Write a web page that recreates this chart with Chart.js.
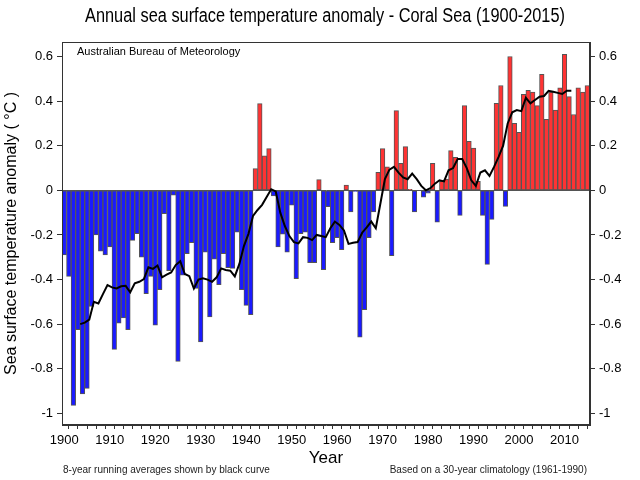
<!DOCTYPE html>
<html>
<head>
<meta charset="utf-8">
<script src="https://cdn.jsdelivr.net/npm/chart.js@4.4.1/dist/chart.umd.min.js"></script>
<style>
  html, body { margin: 0; padding: 0; background: #fff; }
  #wrap { width: 640px; height: 480px; }
</style>
</head>
<body>
<div id="wrap"><canvas id="sstChart" width="640" height="480"></canvas></div>
<script>
// annual anomalies, Coral Sea, 1900-2015 (deg C)
var firstYear = 1900;
var sst = [
    -0.29, -0.386, -0.964, -0.625, -0.913, -0.888, -0.52, -0.20, -0.273, -0.29,
    -0.254, -0.713, -0.595, -0.572, -0.625, -0.224, -0.194, -0.30, -0.463, -0.386,
    -0.605, -0.445, -0.105, -0.36, -0.022, -0.767, -0.38, -0.284, -0.235, -0.44,
    -0.68, -0.277, -0.568, -0.309, -0.423, -0.284, -0.347, -0.35, -0.187, -0.445,
    -0.516, -0.557, 0.097, 0.389, 0.155, 0.187, -0.025, -0.254, -0.197, -0.277,
    -0.067, -0.396, -0.194, -0.187, -0.324, -0.324, 0.048, -0.356, -0.073, -0.235,
    -0.212, -0.266, 0.024, -0.097, -0.005, -0.658, -0.535, -0.212, -0.097, 0.081,
    0.187, 0.105, -0.293, 0.357, 0.121, 0.196, 0.005, -0.097, 0.0, -0.031,
    -0.013, 0.121, -0.143, 0.04, 0.05, 0.178, 0.148, -0.112, 0.38, 0.22,
    0.19, 0.04, -0.112, -0.332, -0.13, 0.39, 0.47, -0.072, 0.60, 0.30,
    0.26, 0.43, 0.448, 0.44, 0.38, 0.52, 0.318, 0.44, 0.36, 0.46,
    0.61, 0.42, 0.34, 0.46, 0.44, 0.47
];

// 8-year running mean, plotted at window centres from 1903.5
var avgStart = 1903.5;
var avg8 = [
    -0.60, -0.593, -0.58, -0.50, -0.507, -0.465, -0.425, -0.435, -0.44, -0.43,
    -0.428, -0.457, -0.417, -0.41, -0.398, -0.345, -0.352, -0.337, -0.39, -0.378,
    -0.368, -0.335, -0.318, -0.375, -0.385, -0.44, -0.40, -0.394, -0.40, -0.41,
    -0.39, -0.35, -0.357, -0.36, -0.386, -0.33, -0.25, -0.195, -0.115, -0.088,
    -0.065, -0.03, 0.005, -0.005, -0.10, -0.16, -0.205, -0.232, -0.238, -0.21,
    -0.213, -0.223, -0.20, -0.205, -0.21, -0.17, -0.14, -0.155, -0.18, -0.24,
    -0.235, -0.232, -0.19, -0.166, -0.14, -0.17, -0.06, 0.05, 0.093, 0.105,
    0.079, 0.058, 0.05, 0.075, 0.05, 0.02, 0.0, 0.01, 0.03, 0.045,
    0.04, 0.09, 0.10, 0.14, 0.14, 0.10, 0.045, 0.02, 0.08, 0.09,
    0.065, 0.105, 0.15, 0.20, 0.30, 0.35, 0.36, 0.355, 0.415, 0.39,
    0.405, 0.42, 0.423, 0.446, 0.442, 0.437, 0.432, 0.447, 0.447
];

var yTicks = [-1, -0.8, -0.6, -0.4, -0.2, 0, 0.2, 0.4, 0.6];
var xLabelYears = [1900, 1910, 1920, 1930, 1940, 1950, 1960, 1970, 1980, 1990, 2000, 2010];
var xMinorStep = 2;

var titleText = 'Annual sea surface temperature anomaly - Coral Sea (1900-2015)';
var sourceText = 'Australian Bureau of Meteorology';
var footLeft = '8-year running averages shown by black curve';
var footRight = 'Based on a 30-year climatology (1961-1990)';

(function () {
    var barPoints = sst.map(function (v, i) { return {x: firstYear + i, y: v}; });
    var avgPoints = avg8.map(function (v, i) { return {x: avgStart + i, y: v}; });

    var fmt = function (v) { return String(Math.round(v * 10) / 10); };
    var setYTicks = function (scale) {
        scale.ticks = yTicks.map(function (v) { return {value: v}; });
    };
    var setXTicks = function (scale) {
        var t = [];
        for (var y = xLabelYears[0]; y <= 2014; y += xMinorStep) t.push({value: y});
        scale.ticks = t;
    };

    // free text + frame
    var decorations = {
        id: 'decorations',
        afterDraw: function (chart) {
            var c = chart.ctx, a = chart.chartArea;
            c.save();
            c.strokeStyle = '#333';
            c.lineWidth = 1;
            c.strokeRect(a.left + 0.5, a.top + 0.5, a.right - a.left - 1, a.bottom - a.top - 1);

            c.fillStyle = '#000';
            c.textBaseline = 'middle';
            c.font = "20px 'Liberation Sans Narrow', 'Liberation Sans', Arial, sans-serif";
            var w = c.measureText(titleText).width, target = 480;
            c.save();
            c.translate(325, 16);
            if (w > target) c.scale(target / w, 1);
            c.textAlign = 'center';
            c.fillText(titleText, 0, 0);
            c.restore();

            c.font = "11px 'Liberation Sans', Arial, sans-serif";
            c.textAlign = 'left';
            c.fillText(sourceText, 77, 52);

            c.font = "10px 'Liberation Sans', Arial, sans-serif";
            c.fillStyle = '#222';
            c.fillText(footLeft, 63, 470);
            c.textAlign = 'right';
            c.fillText(footRight, 587, 470);
            c.restore();
        }
    };

    var ctx = document.getElementById('sstChart').getContext('2d');
    new Chart(ctx, {
        type: 'bar',
        data: {
            datasets: [
                {
                    type: 'line',
                    label: '8-year running average',
                    data: avgPoints,
                    borderColor: '#000',
                    borderWidth: 2,
                    pointRadius: 0,
                    tension: 0,
                    order: 0
                },
                {
                    label: 'Anomaly',
                    data: barPoints,
                    backgroundColor: function (c) {
                        var v = c.raw ? c.raw.y : 0;
                        return v >= 0 ? '#ff3333' : '#1a1aff';
                    },
                    borderColor: '#555',
                    borderWidth: 1,
                    borderSkipped: false,
                    barPercentage: 1,
                    categoryPercentage: 1,
                    order: 1
                }
            ]
        },
        options: {
            responsive: false,
            animation: false,
            devicePixelRatio: 1,
            layout: {padding: {top: 42, left: 0, right: 0, bottom: 0}},
            plugins: {
                legend: {display: false},
                tooltip: {enabled: false},
                title: {display: false}
            },
            scales: {
                x: {
                    type: 'linear',
                    min: 1899.5,
                    max: 2015.6,
                    offset: false,
                    afterFit: function (s) { s.height = 55; },
                    afterBuildTicks: setXTicks,
                    grid: {drawOnChartArea: false, drawTicks: true, tickLength: 4, color: '#333'},
                    border: {display: true, color: '#333'},
                    ticks: {
                        autoSkip: false,
                        maxRotation: 0,
                        padding: 4,
                        color: '#000',
                        font: {family: "'Liberation Sans', Arial, sans-serif", size: 13},
                        callback: function (v) { return v % 10 === 0 ? String(v) : ''; }
                    },
                    title: {
                        display: true,
                        text: 'Year',
                        color: '#000',
                        font: {family: "'Liberation Sans', Arial, sans-serif", size: 17},
                        padding: {top: 0, bottom: 11}
                    }
                },
                y: {
                    position: 'left',
                    min: -1.052,
                    max: 0.665,
                    afterFit: function (s) { s.width = 62; },
                    afterBuildTicks: setYTicks,
                    grid: {
                        drawTicks: true,
                        tickLength: 5,
                        tickColor: '#333',
                        color: function (c) { return c.tick && c.tick.value === 0 ? '#555' : 'rgba(0,0,0,0)'; }
                    },
                    border: {display: true, color: '#333'},
                    ticks: {
                        padding: 4,
                        color: '#000',
                        font: {family: "'Liberation Sans', Arial, sans-serif", size: 13},
                        callback: fmt
                    },
                    title: {
                        display: true,
                        text: 'Sea surface temperature anomaly ( °C )',
                        color: '#000',
                        font: {family: "'Liberation Sans', Arial, sans-serif", size: 16},
                        padding: {top: 2, bottom: 0}
                    }
                },
                y2: {
                    position: 'right',
                    min: -1.052,
                    max: 0.665,
                    afterFit: function (s) { s.width = 50; },
                    afterBuildTicks: setYTicks,
                    grid: {drawOnChartArea: false, drawTicks: true, tickLength: 5, color: '#333'},
                    border: {display: true, color: '#333'},
                    ticks: {
                        padding: 4,
                        color: '#000',
                        font: {family: "'Liberation Sans', Arial, sans-serif", size: 13},
                        callback: fmt
                    }
                }
            }
        },
        plugins: [decorations]
    });
})();
</script>
</body>
</html>
